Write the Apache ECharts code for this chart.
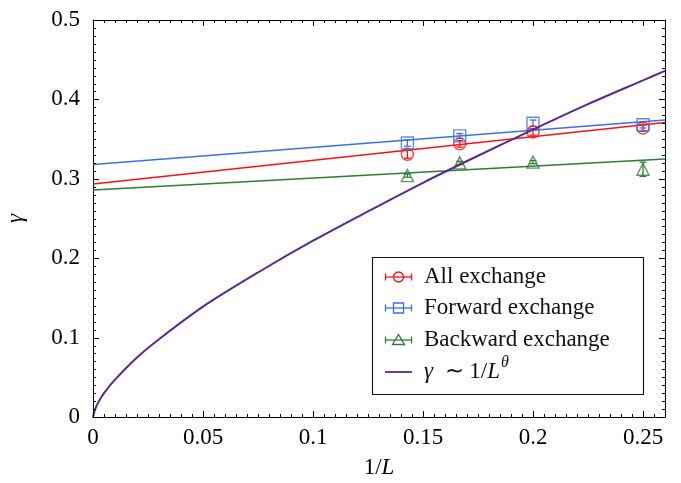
<!DOCTYPE html>
<html>
<head>
<meta charset="utf-8">
<script src="https://cdn.jsdelivr.net/npm/echarts@6/dist/echarts.min.js"></script>
<style>
html,body{margin:0;padding:0;background:#fff;}
#c{width:681px;height:483px;}
</style>
</head>
<body>
<div id="c"></div>
<script>
// ---- data ----
const xInvL = [0.1429, 0.1667, 0.2, 0.25];
const allY = [0.331, 0.344, 0.359, 0.364];
const allErr = [0.005, 0.004, 0.004, 0.004];
const fwdY = [0.345, 0.354, 0.370, 0.368];
const fwdErr = [0.004, 0.003, 0.004, 0.004];
const bwdY = [0.304, 0.320, 0.321, 0.312];
const bwdErr = [0.002, 0.002, 0.002, 0.009];
// linear fits (endpoints at x = 0 and x = 0.26)
const fitX = [0, 0.26];
const allFitY = [0.2935, 0.371];
const fwdFitY = [0.318, 0.374];
const bwdFitY = [0.286, 0.325];
// power-law curve gamma ~ 1/L^theta
const curveX = [0, 0.001, 0.0025, 0.005, 0.01, 0.02, 0.03, 0.05, 0.075, 0.1, 0.125, 0.15, 0.175, 0.2, 0.225, 0.25, 0.26];
const curveY = [0, 0.010, 0.019, 0.030, 0.047, 0.075, 0.098, 0.139, 0.182, 0.222, 0.259, 0.295, 0.329, 0.362, 0.394, 0.424, 0.436];
const xTicks = [0, 0.05, 0.1, 0.15, 0.2, 0.25];
const yTicks = [0, 0.1, 0.2, 0.3, 0.4, 0.5];
const xMinorPerMajor = 10, yMinorPerMajor = 10;
const seriesNames = ['All exchange', 'Forward exchange', 'Backward exchange', 'γ ∼ 1/L^θ'];

const RED = '#ff1010', BLUE = '#3572ea', GREEN = '#2f7d34', PURPLE = '#5a2a88';
const FONT = 'Liberation Serif';
const XMIN = 0, XMAX = 0.26, YMIN = 0, YMAX = 0.5;

const zip = (xs, ys) => xs.map((x, i) => [x, ys[i]]);
const zip3 = (xs, ys, es) => xs.map((x, i) => [x, ys[i], es[i]]);

function errSeries(name, color, data) {
  return {
    name: name + ' err', type: 'custom', xAxisIndex: 0, yAxisIndex: 0, z: 4, silent: true,
    data: data, encode: {x: 0, y: 1},
    renderItem: function (params, api) {
      const x = api.value(0), y = api.value(1), e = api.value(2);
      const t = api.coord([x, y + e]), b = api.coord([x, y - e]);
      const c = 3.5, st = {stroke: color, lineWidth: 1.3};
      return {type: 'group', children: [
        {type: 'line', shape: {x1: t[0], y1: t[1], x2: b[0], y2: b[1]}, style: st},
        {type: 'line', shape: {x1: t[0] - c, y1: t[1], x2: t[0] + c, y2: t[1]}, style: st},
        {type: 'line', shape: {x1: b[0] - c, y1: b[1], x2: b[0] + c, y2: b[1]}, style: st}
      ]};
    }
  };
}
function markSeries(name, color, symbol, size, data) {
  return {
    name: name, type: 'scatter', xAxisIndex: 0, yAxisIndex: 0, z: 5,
    symbol: symbol, symbolSize: size, data: data,
    itemStyle: {color: 'rgba(0,0,0,0)', borderColor: color, borderWidth: 1.4}
  };
}
function fitSeries(name, color, data) {
  return {
    name: name + ' fit', type: 'line', xAxisIndex: 0, yAxisIndex: 0, z: 3,
    data: data, showSymbol: false, symbol: 'none',
    lineStyle: {color: color, width: 1.5}, silent: true
  };
}

function xAxisDef(pos) {
  const main = pos === 'bottom';
  return {
    type: 'value', position: pos, min: XMIN, max: XMAX, interval: 0.05,
    axisLine: {show: true, onZero: false, lineStyle: {color: '#000', width: 1}},
    axisTick: {show: false},
    axisLabel: {show: main, margin: 9, fontFamily: FONT, fontSize: 23, color: '#000',
      customValues: main ? xTicks : undefined},
    splitLine: {show: false},
    name: main ? '{n|1/}{i|L}' : '',
    nameLocation: 'middle', nameGap: 39, nameMoveOverlap: false,
    nameTextStyle: {fontFamily: FONT, fontSize: 23, color: '#000',
      rich: {n: {fontFamily: FONT, fontSize: 23, color: '#000'},
             i: {fontFamily: FONT, fontSize: 23, fontStyle: 'italic', color: '#000'}}}
  };
}
function yAxisDef(pos) {
  const main = pos === 'left';
  return {
    type: 'value', position: pos, min: YMIN, max: YMAX, interval: 0.1,
    axisLine: {show: true, onZero: false, lineStyle: {color: '#000', width: 1}},
    axisTick: {show: false},
    axisLabel: {show: main, margin: 13, fontFamily: FONT, fontSize: 23, color: '#000',
      customValues: main ? yTicks : undefined},
    splitLine: {show: false},
    name: main ? 'γ' : '',
    nameLocation: 'middle', nameGap: 66, nameRotate: 90, nameMoveOverlap: false,
    nameTextStyle: {fontFamily: FONT, fontSize: 23, fontStyle: 'italic', color: '#000'}
  };
}

// ---- legend drawn as graphic (box, icons, text) ----
const LG = {left: 372, top: 257, w: 271, h: 137, iconL: 385, iconR: 412, textX: 424, rows: [277, 308, 340, 372]};
const legendColors = [RED, BLUE, GREEN, PURPLE];
const measureCtx = document.createElement('canvas').getContext('2d');
function textW(str, size, italic) {
  measureCtx.font = (italic ? 'italic ' : '') + size + 'px "' + FONT + '"';
  return measureCtx.measureText(str).width;
}
function txtEl(id, str, x, y, size, italic) {
  return {type: 'text', id: id, z: 5, silent: true, x: x, y: y, style: {
    text: str, fontFamily: FONT, fontSize: size, fontStyle: italic ? 'italic' : 'normal',
    fill: '#111', verticalAlign: 'middle', align: 'left'}};
}
function legendGraphics() {
  const g = [{type: 'rect', id: 'lgbox', x: LG.left, y: LG.top, z: 1, silent: true,
    shape: {x: 0.5, y: 0.5, width: LG.w, height: LG.h},
    style: {fill: '#fff', stroke: '#111', lineWidth: 1.1}}];
  const cx = (LG.iconL + LG.iconR) / 2;
  seriesNames.forEach((name, k) => {
    const y = LG.rows[k], col = legendColors[k];
    const st = () => ({stroke: col, fill: null, lineWidth: k === 3 ? 1.8 : 1.3});
    const id = 'lg' + k;
    g.push({type: 'line', id: id + 'l', z: 5, silent: true, shape: {x1: LG.iconL, y1: y, x2: LG.iconR, y2: y}, style: st()});
    if (k < 3) {
      g.push({type: 'line', id: id + 'c1', z: 5, silent: true, shape: {x1: LG.iconL + 0.5, y1: y - 3.5, x2: LG.iconL + 0.5, y2: y + 3.5}, style: st()});
      g.push({type: 'line', id: id + 'c2', z: 5, silent: true, shape: {x1: LG.iconR - 0.5, y1: y - 3.5, x2: LG.iconR - 0.5, y2: y + 3.5}, style: st()});
    }
    if (k === 0) g.push({type: 'circle', id: id + 'm', z: 5, silent: true, shape: {cx: cx, cy: y, r: 5}, style: st()});
    if (k === 1) g.push({type: 'rect', id: id + 'm', z: 5, silent: true, shape: {x: cx - 5, y: y - 5, width: 10, height: 10}, style: st()});
    if (k === 2) g.push({type: 'polygon', id: id + 'm', z: 5, silent: true, shape: {points: [[cx, y - 5.5], [cx + 6, y + 4.5], [cx - 6, y + 4.5]]}, style: st()});
    if (k < 3) {
      g.push(txtEl(id + 't', name, LG.textX, y, 23, false));
    } else {
      let x = LG.textX;
      const parts = [['γ', true], ['  ∼ 1/', false], ['L', true]];
      parts.forEach((p, j) => { g.push(txtEl(id + 't' + j, p[0], x, y, 23, p[1])); x += textW(p[0], 23, p[1]); });
      g.push(txtEl(id + 'sup', 'θ', x + 1, y - 9, 16, true));
    }
  });
  return g;
}

// inside ticks on all four sides, placed through the chart's own axis scales
function tickGraphics(chart) {
  const g = [];
  const st = {stroke: '#000', lineWidth: 1};
  const xStep = (xTicks[1] - xTicks[0]) / xMinorPerMajor;
  const yStep = (yTicks[1] - yTicks[0]) / yMinorPerMajor;
  const finder = {xAxisIndex: 0, yAxisIndex: 0};
  for (let i = 0; XMIN + i * xStep <= XMAX + 1e-9; i++) {
    const v = XMIN + i * xStep, len = i % xMinorPerMajor === 0 ? 6 : 3;
    const a = chart.convertToPixel(finder, [v, YMIN]);
    const b = chart.convertToPixel(finder, [v, YMAX]);
    const xx = Math.round(a[0]) + 0.5;
    g.push({type: 'line', id: 'xtb' + i, z: 8, silent: true, shape: {x1: xx, y1: a[1], x2: xx, y2: a[1] - len}, style: st});
    g.push({type: 'line', id: 'xtt' + i, z: 8, silent: true, shape: {x1: xx, y1: b[1], x2: xx, y2: b[1] + len}, style: st});
  }
  for (let i = 0; YMIN + i * yStep <= YMAX + 1e-9; i++) {
    const v = YMIN + i * yStep, len = i % yMinorPerMajor === 0 ? 6 : 3;
    const a = chart.convertToPixel(finder, [XMIN, v]);
    const b = chart.convertToPixel(finder, [XMAX, v]);
    const yy = Math.round(a[1]) + 0.5;
    g.push({type: 'line', id: 'ytl' + i, z: 8, silent: true, shape: {x1: a[0], y1: yy, x2: a[0] + len, y2: yy}, style: st});
    g.push({type: 'line', id: 'ytr' + i, z: 8, silent: true, shape: {x1: b[0], y1: yy, x2: b[0] - len, y2: yy}, style: st});
  }
  return g;
}

const chart = echarts.init(document.getElementById('c'), null, {renderer: 'canvas'});
chart.setOption({
  animation: false,
  backgroundColor: '#fff',
  grid: {left: 93, right: 16, top: 20, bottom: 66, containLabel: false, outerBoundsMode: 'none'},
  xAxis: [xAxisDef('bottom'), xAxisDef('top')],
  yAxis: [yAxisDef('left'), yAxisDef('right')],
  series: [
    fitSeries('All exchange', RED, zip(fitX, allFitY)),
    fitSeries('Forward exchange', BLUE, zip(fitX, fwdFitY)),
    fitSeries('Backward exchange', GREEN, zip(fitX, bwdFitY)),
    errSeries('All exchange', RED, zip3(xInvL, allY, allErr)),
    errSeries('Forward exchange', BLUE, zip3(xInvL, fwdY, fwdErr)),
    errSeries('Backward exchange', GREEN, zip3(xInvL, bwdY, bwdErr)),
    markSeries(seriesNames[0], RED, 'circle', 12, zip(xInvL, allY)),
    markSeries(seriesNames[1], BLUE, 'rect', 12, zip(xInvL, fwdY)),
    markSeries(seriesNames[2], GREEN, 'triangle', 12, zip(xInvL, bwdY)),
    {name: seriesNames[3], type: 'line', xAxisIndex: 0, yAxisIndex: 0, z: 6,
     data: zip(curveX, curveY), smooth: 0.3, symbol: 'none', showSymbol: false,
     itemStyle: {color: PURPLE}, lineStyle: {color: PURPLE, width: 2}}
  ]
});
chart.setOption({graphic: {elements: legendGraphics().concat(tickGraphics(chart))}});
</script>
</body>
</html>
